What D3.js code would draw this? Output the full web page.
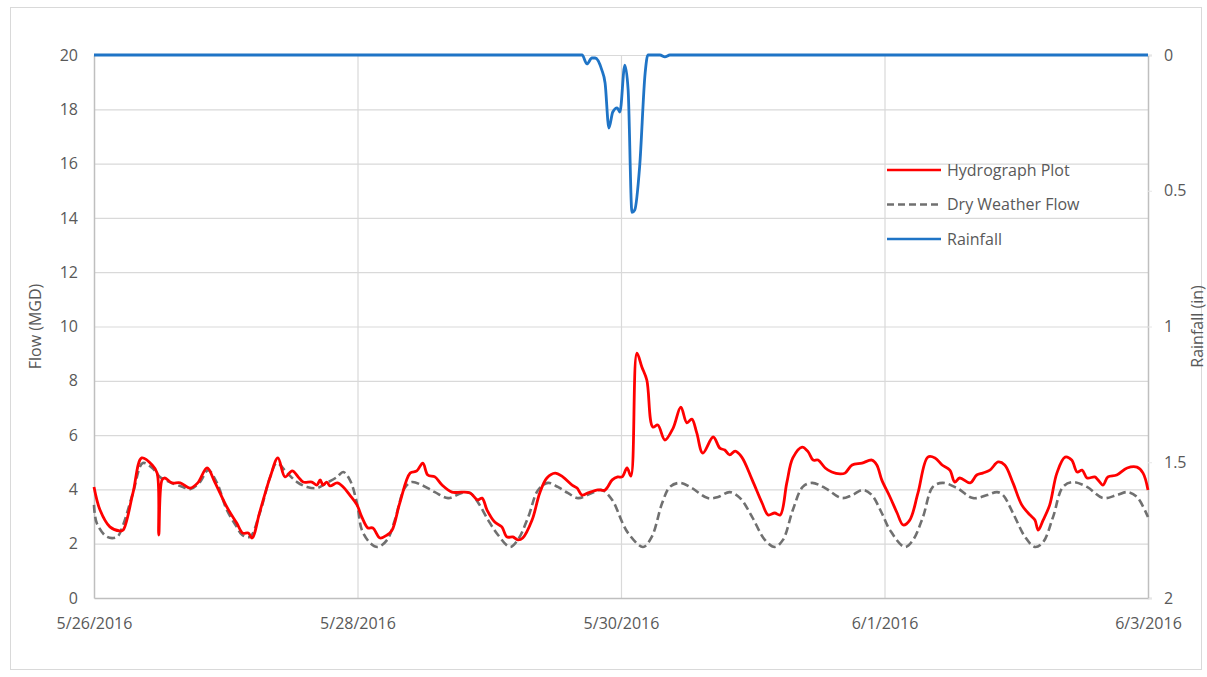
<!DOCTYPE html>
<html>
<head>
<meta charset="utf-8">
<script src="https://cdn.jsdelivr.net/npm/d3@7"></script>
<style>
  html, body { margin: 0; padding: 0; background: #fff; }
  svg { display: block; font-family: "Open Sans", "Liberation Sans", sans-serif; }
</style>
</head>
<body>
<svg id="chart" width="1207" height="677"></svg>
<script>
// ---------- DATA (hours since 5/26/2016 00:00) ----------
const startDate = "2016-05-26T00:00:00";
const endDate = "2016-06-03T00:00:00";
const xTickLabels = ["5/26/2016", "5/28/2016", "5/30/2016", "6/1/2016", "6/3/2016"];
const flowTicks = [0, 2, 4, 6, 8, 10, 12, 14, 16, 18, 20];
const rainTicks = [0, 0.5, 1, 1.5, 2];
const seriesNames = ["Hydrograph Plot", "Dry Weather Flow", "Rainfall"];

const hydroHours = [0,1.1,2.9,4.7,5.3,7.1,8.7,10.6,11.5,11.8,12.4,12.9,14.2,15.7,17.5,18.9,20.6,22.0,24.2,26.0,27.1,28.1,28.8,30.2,32.1,33.5,34.8,36.1,37.2,38.1,39.7,40.6,41.2,41.7,42.4,43.0,44.3,45.4,46.6,47.9,48.8,49.9,50.8,52.1,53.4,54.3,55.7,57.6,58.8,59.9,60.8,62.1,63.4,65.2,67.0,68.5,69.9,70.7,71.6,73.0,74.3,75.2,76.3,77.2,78.1,79.8,81.2,82.5,84.0,85.4,87.1,88.0,88.9,90.0,91.8,93.1,94.4,95.4,96.2,97.1,97.8,98.9,99.8,100.7,101.8,102.7,104.0,105.5,106.9,108.0,108.9,109.8,110.9,112.8,114.0,114.9,115.8,116.8,118.0,119.9,121.7,122.8,124.0,125.0,126.2,127.3,129.0,130.1,131.0,131.9,133.2,134.4,135.9,136.8,138.1,139.9,141.7,142.6,143.5,145.0,146.3,147.4,148.6,150.1,151.9,153.2,154.5,155.9,156.8,157.7,159.6,160.8,161.9,163.2,164.7,165.9,167.4,169.0,170.5,171.4,172.0,172.9,174.1,175.4,176.9,178.1,179.1,180.0,180.9,182.3,182.9,183.8,184.7,186.3,188.2,190.0,191.1,192.0];
const hydroValues = [4.09,3.24,2.62,2.47,2.5,3.87,5.16,4.9,4.6,2.32,4.35,4.42,4.24,4.24,4.05,4.24,4.79,4.27,3.35,2.76,2.39,2.39,2.21,3.17,4.46,5.16,4.46,4.68,4.46,4.27,4.27,4.16,4.35,4.16,4.27,4.13,4.24,4.09,3.79,3.43,2.98,2.58,2.58,2.21,2.32,2.5,3.5,4.6,4.68,4.97,4.53,4.46,4.16,3.9,3.9,3.87,3.61,3.68,3.24,2.8,2.62,2.25,2.25,2.14,2.21,2.87,3.87,4.42,4.6,4.46,4.16,4.05,3.79,3.87,3.98,3.98,4.35,4.46,4.46,4.79,4.49,9.02,8.51,8.03,6.3,6.37,5.82,6.26,7.03,6.45,6.59,6.08,5.34,5.93,5.52,5.45,5.27,5.41,5.19,4.35,3.5,3.06,3.13,3.06,4.24,5.16,5.56,5.38,5.08,5.08,4.79,4.64,4.57,4.6,4.9,4.97,5.08,4.9,4.35,3.72,3.13,2.69,2.87,3.87,5.19,5.16,4.9,4.71,4.27,4.42,4.24,4.53,4.6,4.71,5.01,4.9,4.24,3.43,3.06,2.87,2.5,2.87,3.43,4.6,5.19,5.08,4.64,4.71,4.42,4.46,4.35,4.16,4.46,4.53,4.79,4.82,4.6,3.98];

const dryHours = [0,0.5,2.4,4.2,5.3,7.1,8.9,10.6,12.0,13.8,16.2,17.5,19.3,20.8,22.4,24.2,26.0,27.0,28.4,30.2,32.1,33.3,35.2,37.0,38.8,40.6,42.4,44.3,45.4,46.6,47.9,48.8,50.3,51.7,53.4,54.8,56.6,57.9,59.7,62.1,64.5,67.0,68.5,69.9,71.8,73.6,75.8,77.2,79.1,80.9,82.7,84.5,86.3,88.2,90.7,92.5,94.4,96.2,97.3,100.0,101.6,103.5,104.9,106.7,108.9,111.8,113.7,115.8,117.7,119.9,122.2,124.0,125.5,127.3,129.1,130.8,133.2,136.2,138.1,140.1,141.7,143.5,145.0,147.7,149.2,151.0,152.8,154.6,157.2,160.1,162.7,164.5,165.6,167.4,169.6,171.4,172.9,174.7,176.5,178.3,180.9,183.8,186.3,188.2,190.0,192.0];
const dryValues = [3.43,2.76,2.25,2.25,2.69,3.87,4.97,4.79,4.46,4.27,4.09,4.01,4.27,4.71,4.24,3.24,2.62,2.32,2.25,3.13,4.46,4.97,4.6,4.27,4.09,4.05,4.24,4.46,4.64,4.35,3.5,2.5,2.03,1.88,2.14,2.87,4.05,4.27,4.16,3.9,3.68,3.87,3.87,3.54,2.87,2.32,1.88,2.14,2.98,3.98,4.24,4.09,3.87,3.68,3.87,3.98,3.61,2.8,2.39,1.88,2.25,3.5,4.09,4.24,4.05,3.68,3.72,3.9,3.68,2.98,2.14,1.88,2.14,3.24,4.09,4.24,4.05,3.68,3.79,3.98,3.79,3.13,2.5,1.88,2.14,2.98,4.09,4.24,4.05,3.68,3.79,3.9,3.79,3.13,2.25,1.88,2.06,2.98,4.09,4.27,4.09,3.68,3.79,3.9,3.72,2.98];

const rainHours = [0,88.9,89.8,90.7,91.3,92.5,93.1,93.8,94.5,95.3,95.8,96.7,97.3,98.0,98.5,99.4,100.4,100.9,103.1,104.0,104.9,192];
const rainValues = [0,0,0.033,0.011,0.011,0.055,0.103,0.269,0.21,0.195,0.21,0.037,0.129,0.58,0.571,0.41,0.066,0,0,0.007,0,0];

// ---------- LAYOUT ----------
const svg = d3.select("#chart");
const plot = { left: 94, right: 1148, top: 55, bottom: 598 };
const gridColor = "#d9d9d9";
const axisColor = "#bfbfbf";
const textColor = "#595959";
const fontSize = 16;

const t0 = new Date(startDate), t1 = new Date(endDate);
const toDate = h => new Date(t0.getTime() + h * 3600e3);

const x = d3.scaleTime().domain([t0, t1]).range([plot.left, plot.right]);
const y = d3.scaleLinear().domain([0, 20]).range([plot.bottom, plot.top]);
const yR = d3.scaleLinear().domain([0, 2]).range([plot.top, plot.bottom]);

// outer chart border
svg.append("rect").attr("x", 10.5).attr("y", 7.5).attr("width", 1191).attr("height", 662)
  .attr("fill", "#fff").attr("stroke", gridColor).attr("stroke-width", 1);

// horizontal gridlines
svg.append("g").attr("class", "hgrid")
  .attr("transform", `translate(${plot.left},0)`)
  .call(d3.axisLeft(y).tickValues(flowTicks.slice(1)).tickSize(-(plot.right - plot.left)).tickFormat(""))
  .call(g => g.select(".domain").remove())
  .call(g => g.selectAll("line").attr("stroke", gridColor).attr("stroke-width", 1.2));

// vertical gridlines (every 2 days)
const xTickDates = xTickLabels.map((_, i) => d3.timeDay.offset(t0, i * 2));
svg.append("g").attr("class", "vgrid")
  .attr("transform", `translate(0,${plot.bottom})`)
  .call(d3.axisBottom(x).tickValues(xTickDates.slice(1, -1)).tickSize(-(plot.bottom - plot.top)).tickFormat(""))
  .call(g => g.select(".domain").remove())
  .call(g => g.selectAll("line").attr("stroke", gridColor).attr("stroke-width", 1.2));

// left axis
svg.append("g").attr("transform", `translate(${plot.left},0)`)
  .call(d3.axisLeft(y).tickValues(flowTicks).tickSize(0).tickPadding(16))
  .call(g => g.select(".domain").attr("stroke", axisColor).attr("stroke-width", 1.5))
  .call(g => g.selectAll("text").attr("fill", textColor).attr("font-size", fontSize).attr("font-family", "Open Sans, sans-serif"));

// right axis
svg.append("g").attr("transform", `translate(${plot.right},0)`)
  .call(d3.axisRight(yR).tickValues(rainTicks).tickSize(4).tickPadding(12).tickFormat(d => String(d)))
  .call(g => g.select(".domain").attr("stroke", axisColor).attr("stroke-width", 1.5))
  .call(g => g.selectAll("line").attr("stroke", "#e6e6e6"))
  .call(g => g.selectAll("text").attr("fill", textColor).attr("font-size", fontSize).attr("font-family", "Open Sans, sans-serif"));

// bottom axis
svg.append("g").attr("transform", `translate(0,${plot.bottom})`)
  .call(d3.axisBottom(x).tickValues(xTickDates).tickSize(0).tickPadding(20).tickFormat((d, i) => xTickLabels[i]))
  .call(g => g.select(".domain").attr("stroke", axisColor).attr("stroke-width", 1.5))
  .call(g => g.selectAll("text").attr("fill", textColor).attr("font-size", fontSize).attr("font-family", "Open Sans, sans-serif"));

// axis titles
svg.append("text").attr("transform", `translate(41,${(plot.top + plot.bottom) / 2}) rotate(-90)`)
  .attr("text-anchor", "middle").attr("fill", textColor).attr("font-size", fontSize).text("Flow (MGD)");
svg.append("text").attr("transform", `translate(1203,${(plot.top + plot.bottom) / 2}) rotate(-90)`)
  .attr("text-anchor", "middle").attr("fill", textColor).attr("font-size", fontSize).text("Rainfall (in)");

// ---------- LINES ----------
const hydro = hydroHours.map((h, i) => ({ t: toDate(h), v: hydroValues[i] }));
const dry = dryHours.map((h, i) => ({ t: toDate(h), v: dryValues[i] }));
const rain = rainHours.map((h, i) => ({ t: toDate(h), v: rainValues[i] }));

const flowLine = d3.line().x(d => x(d.t)).y(d => y(d.v)).curve(d3.curveCatmullRom.alpha(0.5));
const rainLine = d3.line().x(d => x(d.t)).y(d => yR(d.v)).curve(d3.curveMonotoneX);

svg.append("path").datum(dry).attr("d", flowLine).attr("fill", "none")
  .attr("stroke", "#707070").attr("stroke-width", 2.6).attr("stroke-dasharray", "8,4");
svg.append("path").datum(hydro).attr("d", flowLine).attr("fill", "none")
  .attr("stroke", "#ff0000").attr("stroke-width", 2.8).attr("stroke-linejoin", "round");
svg.append("path").datum(rain).attr("d", rainLine).attr("fill", "none")
  .attr("stroke", "#1f74c6").attr("stroke-width", 2.8).attr("stroke-linejoin", "round");

// ---------- LEGEND ----------
const legendStyles = [
  { color: "#ff0000", dash: null },
  { color: "#707070", dash: "7,4" },
  { color: "#1f74c6", dash: null }
];
const legend = svg.append("g").attr("transform", "translate(887,170)");
seriesNames.forEach((name, i) => {
  const g = legend.append("g").attr("transform", `translate(0,${i * 34.5})`);
  g.append("line").attr("x1", 0).attr("x2", 54).attr("y1", 0).attr("y2", 0)
    .attr("stroke", legendStyles[i].color).attr("stroke-width", 2.6)
    .attr("stroke-dasharray", legendStyles[i].dash);
  g.append("text").attr("x", 60).attr("y", 0).attr("dy", "0.35em")
    .attr("fill", textColor).attr("font-size", fontSize).text(name);
});
</script>
</body>
</html>
